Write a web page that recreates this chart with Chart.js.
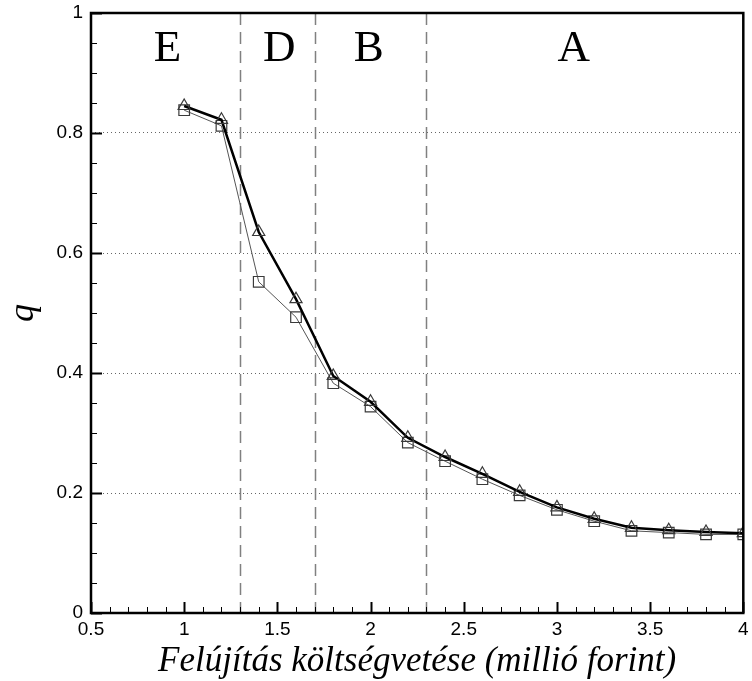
<!DOCTYPE html>
<html>
<head>
<meta charset="utf-8">
<script src="https://cdn.jsdelivr.net/npm/chart.js@4/dist/chart.umd.min.js"></script>
<style>
  html, body { margin: 0; padding: 0; background: #fff; }
  #wrap { width: 752px; height: 681px; }
</style>
</head>
<body>
<div id="wrap"><canvas id="chart"></canvas></div>
<script>
// budget (million forint) and q values
var budget = [1.0, 1.2, 1.4, 1.6, 1.8, 2.0, 2.2, 2.4, 2.6, 2.8, 3.0, 3.2, 3.4, 3.6, 3.8, 4.0];
var qTriangle = [0.845, 0.822, 0.635, 0.523, 0.395, 0.352, 0.292, 0.260, 0.232, 0.202, 0.176, 0.157, 0.142, 0.138, 0.135, 0.133];
var qSquare = [0.838, 0.812, 0.552, 0.493, 0.383, 0.344, 0.284, 0.253, 0.223, 0.196, 0.172, 0.153, 0.137, 0.134, 0.131, 0.131];

// region boundaries and labels
var boundaries = [1.3, 1.7, 2.3];
var regionLabels = ['E', 'D', 'B', 'A'];
var regionLabelX = [0.91, 1.51, 1.99, 3.09];
var regionLabelQ = 0.94;

function toPoints(xs, ys) {
  return xs.map(function (x, i) { return { x: x, y: ys[i] }; });
}

function plainNumber(v) {
  return String(+Number(v).toFixed(2));
}

var decor = {
  id: 'decor',
  beforeDatasetsDraw: function (chart) {
    var ctx = chart.ctx, a = chart.chartArea, xs = chart.scales.x;
    ctx.save();
    ctx.strokeStyle = '#808080';
    ctx.lineWidth = 1.5;
    ctx.setLineDash([12, 7]);
    boundaries.forEach(function (b) {
      var px = Math.round(xs.getPixelForValue(b)) + 0.5;
      ctx.beginPath();
      ctx.moveTo(px, a.top);
      ctx.lineTo(px, a.bottom);
      ctx.stroke();
    });
    ctx.restore();
  },
  afterDatasetsDraw: function (chart) {
    var ctx = chart.ctx, a = chart.chartArea, xs = chart.scales.x, ys = chart.scales.y;
    ctx.save();
    ctx.strokeStyle = '#000';
    // inward ticks on bottom axis
    var i, v, p, major;
    for (i = 0; i <= 35; i++) {
      v = 0.5 + i * 0.1;
      p = Math.round(xs.getPixelForValue(v)) + 0.5;
      major = i % 5 === 0;
      ctx.lineWidth = major ? 2 : 1;
      ctx.beginPath();
      ctx.moveTo(p, a.bottom);
      ctx.lineTo(p, a.bottom - (major ? 11 : 6));
      ctx.stroke();
    }
    // inward ticks on left axis
    for (i = 0; i <= 20; i++) {
      v = i * 0.05;
      p = Math.round(ys.getPixelForValue(v)) + 0.5;
      major = i % 4 === 0;
      ctx.lineWidth = major ? 2 : 1;
      ctx.beginPath();
      ctx.moveTo(a.left, p);
      ctx.lineTo(a.left + (major ? 11 : 6), p);
      ctx.stroke();
    }
    // frame
    ctx.lineWidth = 2.5;
    ctx.strokeRect(a.left, a.top, a.right - a.left, a.bottom - a.top);
    // region labels
    ctx.fillStyle = '#000';
    ctx.font = '45px "Liberation Serif", "Times New Roman", serif';
    ctx.textAlign = 'center';
    ctx.textBaseline = 'middle';
    regionLabels.forEach(function (t, k) {
      ctx.fillText(t, xs.getPixelForValue(regionLabelX[k]), ys.getPixelForValue(regionLabelQ));
    });
    ctx.restore();
  }
};

new Chart(document.getElementById('chart'), {
  type: 'line',
  data: {
    datasets: [
      {
        label: 'squares',
        data: toPoints(budget, qSquare),
        borderColor: '#555',
        borderWidth: 1,
        pointStyle: 'rect',
        pointRadius: 7.5,
        pointBorderColor: '#3a3a3a',
        pointBorderWidth: 1.2,
        pointBackgroundColor: 'rgba(0,0,0,0)',
        tension: 0,
        order: 2
      },
      {
        label: 'triangles',
        data: toPoints(budget, qTriangle),
        borderColor: '#000',
        borderWidth: 2.5,
        pointStyle: 'triangle',
        pointRadius: 7,
        pointBorderColor: '#3a3a3a',
        pointBorderWidth: 1.2,
        pointBackgroundColor: 'rgba(0,0,0,0)',
        tension: 0,
        order: 1
      }
    ]
  },
  options: {
    responsive: true,
    maintainAspectRatio: false,
    animation: false,
    layout: { padding: { top: 13, right: 5, left: 0, bottom: 0 } },
    plugins: { legend: { display: false }, tooltip: { enabled: false } },
    scales: {
      x: {
        type: 'linear',
        min: 0.5,
        max: 4,
        grid: { display: false, drawTicks: false },
        border: { display: false },
        ticks: {
          stepSize: 0.5,
          padding: 5,
          color: '#000',
          font: { family: '"Liberation Sans", Arial, sans-serif', size: 19 },
          maxRotation: 0,
          callback: plainNumber
        },
        title: {
          display: true,
          text: 'Felújítás költségvetése (millió forint)',
          color: '#000',
          font: { family: '"Liberation Serif", "Times New Roman", serif', size: 35, style: 'italic', lineHeight: 1.1 },
          padding: { top: 0, bottom: 0 }
        },
        afterFit: function (s) {
          s.height = 68;
          s.paddingLeft = 0; s.paddingRight = 0;
        }
      },
      y: {
        type: 'linear',
        min: 0,
        max: 1,
        grid: {
          drawTicks: false,
          color: function (c) {
            var v = c.tick && c.tick.value;
            return (v === 0 || v === 1) ? 'rgba(0,0,0,0)' : '#666';
          },
          lineWidth: 1
        },
        border: { display: false, dash: [1, 3] },
        ticks: {
          stepSize: 0.2,
          padding: 8,
          color: '#000',
          font: { family: '"Liberation Sans", Arial, sans-serif', size: 19 },
          callback: plainNumber
        },
        title: {
          display: true,
          text: 'q',
          color: '#000',
          font: { family: '"Liberation Serif", "Times New Roman", serif', size: 36, style: 'italic', lineHeight: 1 },
          padding: { top: 6, bottom: 0 }
        },
        afterFit: function (s) {
          s.width = 91;
          s.paddingTop = 0; s.paddingBottom = 0;
        }
      }
    }
  },
  plugins: [decor]
});
</script>
</body>
</html>
